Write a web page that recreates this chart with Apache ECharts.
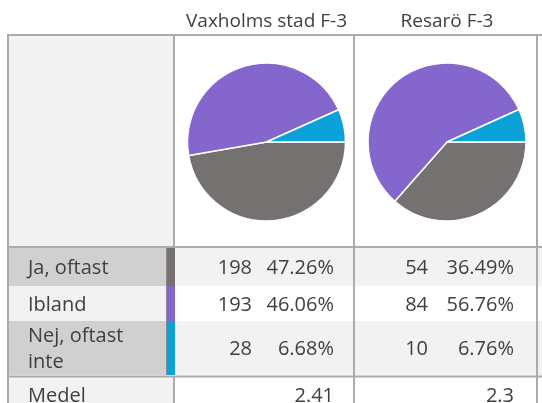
<!DOCTYPE html>
<html>
<head>
<meta charset="utf-8">
<script src="https://cdn.jsdelivr.net/npm/echarts@6/dist/echarts.min.js"></script>
<style>
  html, body { margin: 0; padding: 0; background: #ffffff; }
  #chart { width: 542px; height: 403px; }
</style>
</head>
<body>
<div id="chart"></div>
<script>
// Survey answers per school
const schools = ['Vaxholms stad F-3', 'Resarö F-3'];
const answers = ['Ja, oftast', 'Ibland', 'Nej, oftast\ninte'];
const answerColors = ['#767171', '#8466cc', '#0aa2d8'];
const countsVaxholm = [198, 193, 28];
const countsResaro = [54, 84, 10];
const meanScores = ['2.41', '2.3'];
const meanLabel = 'Medel';

const countsBySchool = [countsVaxholm, countsResaro];

// Table geometry
const FONT = '"Open Sans", "Noto Sans", sans-serif';
const TXT = '#404040';
const LINE = '#ababab';
const xLeft = 7, xRight = 542;
const colEdges = [174, 354, 537];     // vertical dividers
const pieCenters = [266.5, 447];
const yTop = 35, yHead = 247, yRowsEnd = 376.5, yBottom = 403;
const rowBands = [[248, 286], [286, 321], [321, 375]];
const labelBg = ['#d0d0d0', '#f2f2f2', '#d0d0d0'];
const dataBg = ['#f2f2f2', '#ffffff', '#f2f2f2'];
const countRight = [252, 428];
const pctRight = [334, 514];
const textShift = 1.5;

const graphics = [];
const rect = (x, y, w, h, fill) => graphics.push({
  type: 'rect', silent: true, shape: { x, y, width: w, height: h }, style: { fill }
});
const line = (x1, y1, x2, y2, stroke, w) => graphics.push({
  type: 'line', silent: true, shape: { x1, y1, x2, y2 }, style: { stroke, lineWidth: w || 2 }
});
const text = (x, y, s, align, size) => graphics.push({
  type: 'text', silent: true, x, y,
  style: {
    text: s, fill: TXT, font: (size || 20) + 'px ' + FONT,
    align: align || 'left', verticalAlign: 'middle', lineHeight: 26
  }
});

// backgrounds
rect(xLeft, yTop, colEdges[0] - xLeft, yHead - yTop, '#f2f2f2');
rowBands.forEach((b, i) => {
  rect(xLeft, b[0], 166 - xLeft, b[1] - b[0], labelBg[i]);
  rect(175, b[0], xRight - 175, b[1] - b[0], dataBg[i]);
  rect(167, b[0], 8, b[1] - b[0], answerColors[i]);
});
rect(xLeft, yRowsEnd, colEdges[0] - xLeft, yBottom - yRowsEnd, '#f2f2f2');

// grid lines
line(xLeft, yTop, xRight, yTop, LINE);
line(xLeft, yHead, xRight, yHead, LINE);
line(xLeft, yRowsEnd, xRight, yRowsEnd, LINE);
line(xLeft + 1, yTop - 1, xLeft + 1, yBottom, LINE);
line(colEdges[0], yTop, colEdges[0], yHead + 1, LINE);
line(colEdges[0], yRowsEnd, colEdges[0], yBottom, LINE);
line(colEdges[1], yTop, colEdges[1], yBottom, LINE);
line(colEdges[2], yTop, colEdges[2], yBottom, LINE);
line(166.5, rowBands[0][0], 166.5, rowBands[2][1], '#8c8c8c', 1);

// header texts
schools.forEach((s, i) => text(pieCenters[i], 22, s, 'center', 19));

// row labels and values
rowBands.forEach((b, i) => {
  const yc = (b[0] + b[1]) / 2 + textShift;
  text(28, yc, answers[i], 'left');
  countsBySchool.forEach((counts, j) => {
    const total = counts.reduce((a, v) => a + v, 0);
    text(countRight[j], yc, String(counts[i]), 'right');
    text(pctRight[j], yc, (counts[i] / total * 100).toFixed(2) + '%', 'right');
  });
});
text(28, 396, meanLabel, 'left');
meanScores.forEach((m, j) => text(pctRight[j], 396, m, 'right'));

const pieSeries = countsBySchool.map((counts, j) => ({
  type: 'pie',
  center: [pieCenters[j], 142],
  radius: 79,
  startAngle: 0,
  clockwise: true,
  silent: true,
  label: { show: false },
  labelLine: { show: false },
  itemStyle: { borderColor: '#ffffff', borderWidth: 1.5 },
  data: counts.map((v, i) => ({ name: answers[i], value: v, itemStyle: { color: answerColors[i] } }))
}));

const chart = echarts.init(document.getElementById('chart'), null, { renderer: 'canvas' });
chart.setOption({
  animation: false,
  backgroundColor: '#ffffff',
  graphic: { elements: graphics },
  series: pieSeries
});
</script>
</body>
</html>
